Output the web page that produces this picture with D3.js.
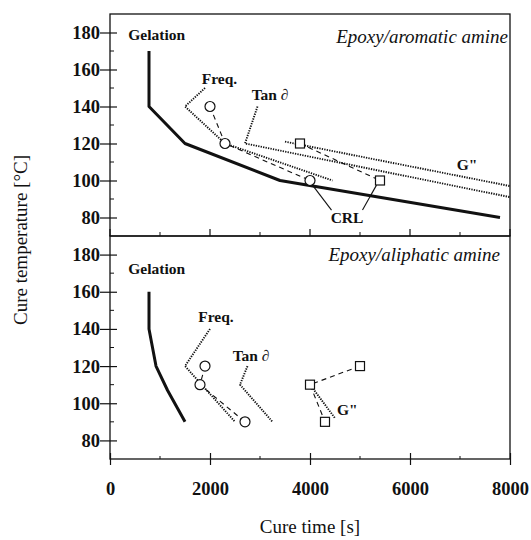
<!DOCTYPE html>
<html>
<head>
<meta charset="utf-8">
<script src="https://cdn.jsdelivr.net/npm/d3@7"></script>
<style>
  html, body { margin: 0; padding: 0; background: #fff; }
  svg { display: block; }
  text { font-family: "Liberation Serif", "Times New Roman", serif; fill: #111; }
</style>
</head>
<body>
<svg id="chart" width="531" height="540"></svg>
<script>
// ---------- data ----------
const xTicks = [0, 2000, 4000, 6000, 8000];
const xMinorTicks = [1000, 3000, 5000, 7000];
const yTicks = [80, 100, 120, 140, 160, 180];
const yMinorTicks = [90, 110, 130, 150, 170];

// Epoxy / aromatic amine (top panel)  [time s, temperature C]
const aroGelation = [[780, 170], [780, 140], [1500, 120], [3400, 100], [7800, 80]];
const aroFreq = [[1900, 150], [1500, 140], [2300, 120], [4450, 100]];
const aroTan = [[2950, 140], [2700, 120], [8000, 91]];
const aroGpp = [[3500, 121], [8000, 97]];
const aroCrlFreq = [[2000, 140], [2300, 120], [4000, 100]];
const aroCrlGpp = [[3800, 120], [5400, 100]];
const aroCrlLeaders = [[[4050, 97.5], [4430, 84]], [[5330, 97.5], [5050, 84]]];

// Epoxy / aliphatic amine (bottom panel)
const aliGelation = [[780, 160], [780, 140], [920, 120], [1150, 107], [1500, 90]];
const aliFreq = [[2000, 140], [1500, 120], [2500, 90]];
const aliTan = [[2750, 120], [2600, 110], [3250, 90]];
const aliGpp = [[4000, 110], [4500, 92]];
const aliCrlFreq = [[1900, 120], [1800, 110], [2700, 90]];
const aliCrlGpp = [[5000, 120], [4000, 110], [4300, 90]];

// annotations (data coordinates)
const aroLabels = [
  { text: "Gelation", t: 366, T: 176.2 },
  { text: "Freq.", t: 1834, T: 152.2 },
  { text: "Tan \u2202", t: 2834, T: 143.5 },
  { text: "G\"", t: 6934, T: 105.7 },
  { text: "CRL", t: 4740, T: 77, anchor: "middle" }
];
const aliLabels = [
  { text: "Gelation", t: 366, T: 169.6 },
  { text: "Freq.", t: 1766, T: 143.7 },
  { text: "Tan \u2202", t: 2454, T: 122.5 },
  { text: "G\"", t: 4540, T: 93.7 }
];
const aroTitle = { text: "Epoxy/aromatic amine", t: 7960, T: 174.3 };
const aliTitle = { text: "Epoxy/aliphatic amine", t: 7800, T: 176.8 };

// ---------- layout ----------
const svg = d3.select("#chart");
svg.append("rect").attr("width", 531).attr("height", 540).attr("fill", "#fff");

const x = d3.scaleLinear().domain([0, 8000]).range([110, 510]);
const yTop = d3.scaleLinear().domain([70, 190]).range([236, 14]);
const yBot = d3.scaleLinear().domain([70, 190]).range([459, 236]);

function drawPanel(y, d, isBottom) {
  const g = svg.append("g");
  const [y0, y1] = y.range();
  // frame
  g.append("rect").attr("x", x(0)).attr("y", y1).attr("width", x(8000) - x(0)).attr("height", y0 - y1)
    .attr("fill", "none").attr("stroke", "#111").attr("stroke-width", 1.3);

  // y axis
  const ay = g.append("g").attr("transform", `translate(${x(0)},0)`)
    .call(d3.axisLeft(y).tickValues(yTicks).tickSize(10).tickPadding(1));
  ay.select(".domain").remove();
  ay.selectAll(".tick line").attr("x1", 7).attr("x2", -10).attr("stroke", "#111").attr("stroke-width", 1.2);
  ay.selectAll(".tick text").attr("font-family", "Liberation Serif").attr("font-size", 18.5)
    .attr("font-weight", "bold").attr("fill", "#111").attr("x", -10);

  g.selectAll(".yminor").data(yMinorTicks).enter().append("line")
    .attr("x1", x(0)).attr("x2", x(0) + 4).attr("y1", v => y(v)).attr("y2", v => y(v))
    .attr("stroke", "#111").attr("stroke-width", 1);

  // bottom edge ticks
  if (isBottom) {
    const ax = g.append("g").attr("transform", `translate(0,${y0})`)
      .call(d3.axisBottom(x).tickValues(xTicks).tickSize(6).tickFormat(d3.format("d")));
    ax.select(".domain").remove();
    ax.selectAll(".tick line").attr("y1", -6).attr("y2", 6).attr("stroke", "#111").attr("stroke-width", 1.2);
    ax.selectAll(".tick text").attr("font-family", "Liberation Serif").attr("font-size", 18.5)
      .attr("font-weight", "bold").attr("fill", "#111").attr("y", 30).attr("dy", "0.35em");
    g.selectAll(".xminor").data(xMinorTicks).enter().append("line")
      .attr("x1", v => x(v)).attr("x2", v => x(v)).attr("y1", y0).attr("y2", y0 - 3)
      .attr("stroke", "#111").attr("stroke-width", 1);
  } else {
    g.selectAll(".xmaj").data(xTicks).enter().append("line")
      .attr("x1", v => x(v)).attr("x2", v => x(v)).attr("y1", y0).attr("y2", y0 - 7)
      .attr("stroke", "#111").attr("stroke-width", 1.2);
    g.selectAll(".xminor").data(xMinorTicks).enter().append("line")
      .attr("x1", v => x(v)).attr("x2", v => x(v)).attr("y1", y0).attr("y2", y0 - 4)
      .attr("stroke", "#111").attr("stroke-width", 1);
  }

  const line = d3.line().x(p => x(p[0])).y(p => y(p[1]));

  g.append("path").datum(d.gelation).attr("d", line)
    .attr("fill", "none").attr("stroke", "#111").attr("stroke-width", 3).attr("stroke-linejoin", "round");

  const dotted = [d.freq, d.tan, d.gpp];
  g.selectAll(".dotted").data(dotted).enter().append("path")
    .attr("d", line).attr("fill", "none").attr("stroke", "#111").attr("stroke-width", 1.9)
    .attr("stroke-dasharray", "1.3,1.2");

  const dashed = [d.crlFreq, d.crlGpp];
  g.selectAll(".dashed").data(dashed).enter().append("path")
    .attr("d", line).attr("fill", "none").attr("stroke", "#111").attr("stroke-width", 1.1)
    .attr("stroke-dasharray", "5,4");

  if (d.leaders) {
    g.selectAll(".leader").data(d.leaders).enter().append("path")
      .attr("d", line).attr("fill", "none").attr("stroke", "#111").attr("stroke-width", 1.1);
  }

  g.selectAll(".circ").data(d.crlFreq).enter().append("circle")
    .attr("cx", p => x(p[0])).attr("cy", p => y(p[1])).attr("r", 5)
    .attr("fill", "#fff").attr("stroke", "#111").attr("stroke-width", 1.2);
  g.selectAll(".sq").data(d.crlGpp).enter().append("rect")
    .attr("x", p => x(p[0]) - 4.5).attr("y", p => y(p[1]) - 4.5).attr("width", 9).attr("height", 9)
    .attr("fill", "#fff").attr("stroke", "#111").attr("stroke-width", 1.2);

  g.selectAll(".lab").data(d.labels).enter().append("text")
    .attr("x", l => x(l.t)).attr("y", l => y(l.T))
    .attr("text-anchor", l => l.anchor || "start")
    .attr("font-size", 15.5).attr("font-weight", "bold").text(l => l.text);

  g.append("text").attr("x", x(d.title.t)).attr("y", y(d.title.T))
    .attr("text-anchor", "end").attr("font-size", 19).attr("font-style", "italic")
    .text(d.title.text);
}

drawPanel(yTop, {
  gelation: aroGelation, freq: aroFreq, tan: aroTan, gpp: aroGpp,
  crlFreq: aroCrlFreq, crlGpp: aroCrlGpp, leaders: aroCrlLeaders,
  labels: aroLabels, title: aroTitle
}, false);

drawPanel(yBot, {
  gelation: aliGelation, freq: aliFreq, tan: aliTan, gpp: aliGpp,
  crlFreq: aliCrlFreq, crlGpp: aliCrlGpp, leaders: null,
  labels: aliLabels, title: aliTitle
}, true);

// axis titles
svg.append("text").attr("x", 310).attr("y", 533).attr("text-anchor", "middle")
  .attr("font-size", 19).text("Cure time [s]");
svg.append("text").attr("transform", "translate(27,240) rotate(-90)").attr("text-anchor", "middle")
  .attr("font-size", 19).text("Cure temperature [°C]");
</script>
</body>
</html>
